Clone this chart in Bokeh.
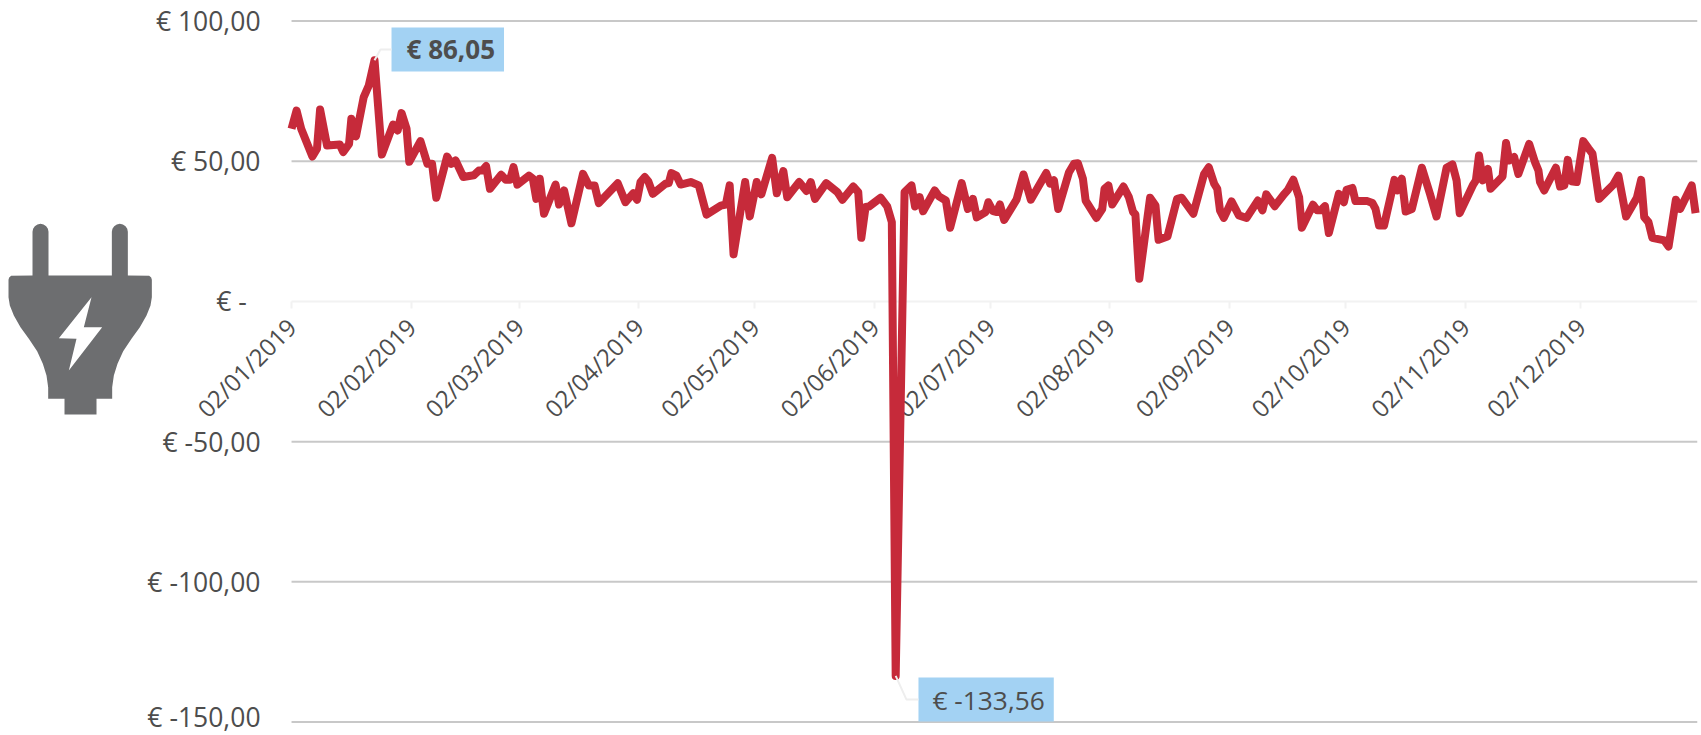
from math import pi, cos, sin
from bokeh.plotting import figure
from bokeh.models import Label, FixedTicker, Range1d
from bokeh.embed import file_html
from bokeh.resources import INLINE

tick_days = [0, 31, 59, 90, 120, 151, 181, 212, 243, 273, 304, 334]
tick_labels = ["02/01/2019", "02/02/2019", "02/03/2019", "02/04/2019", "02/05/2019", "02/06/2019",
               "02/07/2019", "02/08/2019", "02/09/2019", "02/10/2019", "02/11/2019", "02/12/2019"]
y_ticks = [100, 50, 0, -50, -100, -150]
y_labels = ["€ 100,00", "€ 50,00", "€ -\u00a0\u00a0", "€ -50,00", "€ -100,00", ""]

days = [0, 1.3, 2.5, 5.4, 6.6, 7.4, 9.2, 12.5, 13.4, 14.9, 15.5, 16.7, 18.7, 20, 21.5, 23.4, 26.3, 27.5, 28.5,
        29.8, 30.5, 33.4, 35.2, 36.4, 37.5, 40.3, 41.4, 42.5, 44.5, 47.2, 48.5, 49.4, 50.4, 51.4, 54.3, 55.5,
        56.6, 57.5, 58.5, 61.5, 62.5, 63.4, 64.3, 65.4, 68.4, 69.3, 70.6, 72.5, 75.5, 77, 78.5, 79.6, 84.5,
        86.5, 88.5, 89.5, 90.4, 91.5, 92.4, 93.6, 96.9, 97.7, 98.4, 99.7, 100.8, 103.4, 105.5, 107.5, 111.2,
        112.5, 113.5, 114.5, 117.5, 118.7, 120.5, 121.7, 124.5, 125.7, 127.4, 128.4, 131.5, 133.4, 134.5,
        135.6, 138.5, 141.4, 142.7, 145.5, 146.8, 147.6, 148.7, 149.6, 152.6, 154.3, 155.5, 156.5, 158.8,
        160.6, 161.5, 162.7, 163.6, 166.6, 167.7, 169.5, 170.6, 173.6, 175.2, 176.5, 177.5, 179.8, 180.5,
        181.7, 182.7, 183.5, 184.6, 187.8, 189.6, 191.5, 195.5, 196.5, 197.5, 198.6, 201.4, 202.7, 203.7,
        205, 205.7, 208.5, 210, 210.6, 211.6, 212.6, 215.5, 216.9, 218, 218.6, 219.6, 222.4, 223.8, 224.6,
        226.9, 229.4, 230.6, 233.6, 236.4, 237.6, 239, 239.8, 240.5, 241.5, 243.5, 245.4, 247.4, 250.3,
        251.5, 252.5, 254.7, 257.2, 258.1, 259.5, 261, 261.7, 264.6, 265.7, 266.6, 267.7, 268.7, 271.3,
        272.6, 273.3, 274.8, 275.6, 278.7, 280, 280.8, 281.7, 283, 285.7, 286.5, 287.6, 288.6, 290.2,
        292.8, 294.9, 296.6, 299.2, 300.7, 301.8, 302.6, 306.1, 306.8, 307.6, 308.6, 309.9, 310.6, 313.7,
        314.6, 315.4, 316.7, 317.8, 320.6, 322.1, 323, 323.4, 324.5, 327.5, 328.6, 329.7, 330.6, 331.5,
        332.9, 334.6, 336, 337, 338.7, 342.4, 343.7, 345.7, 348.5, 349.6, 350.4, 351.5, 352.5, 355.6,
        356.7, 358.6, 359.7, 362.7, 363.7]
prices = [61.6, 68.1, 61.6, 51.7, 54.5, 68.5, 55.6, 56, 53.3, 56.2, 65.2, 58.9, 72.9, 77, 86.05, 52.4, 63.1, 61,
          67.2, 61.6, 49.8, 57.2, 49.1, 49.1, 37, 51.7, 49.1, 50.3, 44.4, 45, 46.7, 46.7, 48.3, 40.2, 45.2, 43.4,
          43.4, 47.9, 41.7, 44.9, 43.8, 36.6, 43.8, 31.3, 41.7, 34.6, 39.6, 27.9, 45.5, 41.4, 41.4, 35.1, 42.2,
          35.4, 38.6, 36.3, 42.6, 44.4, 42.9, 38.4, 42, 42.2, 45.8, 44.9, 41.7, 42.6, 41.4, 31, 34.2,
          34.6, 41.4, 16.8, 42.6, 30.3, 42.6, 38.2, 51.2, 38.6, 46.5, 37.2, 42.6, 39.4, 42.6,
          36.6, 42.2, 39, 36.3, 41, 39, 22.7, 33.7, 33.9, 37, 33.9, 28.3, -133.56, 39,
          41.4, 33.9, 37.2, 32.2, 39.6, 37.5, 36, 26.3, 42.2, 33, 36.6, 30, 31.9, 35.4,
          32.2, 31.9, 34.6, 29.1, 36.3, 45.3, 36.3, 45.8, 42, 43.2, 33, 46.1, 49.1, 49.3,
          43.8, 36, 29.8, 33, 40.2, 41.4, 34.6, 41, 37.2, 31.9, 31, 8.1, 37, 34.2, 22,
          23.2, 36.6, 37, 31.3, 45.5, 47.9, 42, 40.2, 32.5, 29.8, 35.7, 30.7, 29.8, 36,
          32.5, 38.2, 34, 38.4, 39.8, 43.4, 37.2, 26.3, 34.5, 32.5, 32.5, 34, 24.4, 38.4,
          35.4, 39.8, 40.5, 35.8, 35.8, 35.1, 33, 27.1, 27.1, 43.4, 39.6, 43.8, 32.1, 33,
          47.7, 38.4, 30.3, 47.7, 48.9, 43.2, 31.5, 41.7, 43.2, 52.1, 43.2, 47.3, 40.2, 44.6,
          56.5, 50.3, 51.5, 45.5, 56.2, 49.7, 46.7, 42.6, 39.6, 47.7, 41, 41.4, 50.5, 42.9,
          42.6, 57.2, 54.5, 52.7, 36.6, 41.7, 44.9, 30.3, 37, 43.4, 30.1, 28.3, 22.7, 21.8,
          19.6, 36.3, 33, 41.4, 31.5]

TXT = "#4d4d4d"
X_END = 364.2
p = figure(width=1701, height=735, output_backend="svg", toolbar_location=None,
           x_range=Range1d(-291 / 3.86, X_END), y_range=Range1d(-154.8, 107.35),
           min_border_left=0, min_border_right=4, min_border_top=0, min_border_bottom=0,
           outline_line_color=None, background_fill_color="white", border_fill_color="white")

p.yaxis.fixed_location = 0
p.yaxis.bounds = (-150, 100)
p.yaxis.ticker = FixedTicker(ticks=y_ticks)
p.yaxis.major_label_overrides = dict(zip(y_ticks, y_labels))
p.yaxis.axis_line_color = None
p.yaxis.major_tick_line_color = None
p.yaxis.minor_tick_line_color = None
p.yaxis.major_label_text_font = "Open Sans"
p.yaxis.major_label_text_font_size = "26.5px"
p.yaxis.major_label_text_color = TXT
p.yaxis.major_label_standoff = 25

p.xaxis.fixed_location = 0
p.xaxis.bounds = (0, X_END)
p.xaxis.ticker = FixedTicker(ticks=tick_days)
p.xaxis.major_label_overrides = dict(zip(tick_days, tick_labels))
p.xaxis.major_label_orientation = pi / 4
p.xaxis.major_label_text_font = "Open Sans"
p.xaxis.major_label_text_font_size = "24px"
p.xaxis.major_label_text_color = TXT
p.xaxis.major_label_standoff = 14
p.xaxis.axis_line_color = "#f2f2f2"
p.xaxis.axis_line_width = 2
p.xaxis.major_tick_line_color = "#f2f2f2"
p.xaxis.major_tick_line_width = 2
p.xaxis.major_tick_in = 0
p.xaxis.major_tick_out = 7
p.xaxis.minor_tick_line_color = None

p.xgrid.grid_line_color = None
p.ygrid.grid_line_color = None
grid_vals = [t for t in y_ticks if t != 0]
p.segment(x0=[0] * len(grid_vals), x1=[X_END] * len(grid_vals), y0=grid_vals, y1=grid_vals,
          line_color="#c8c8c8", line_width=2, level="underlay")

p.add_layout(Label(x=0, y=-150, x_offset=-31, y_offset=5, text="€ -150,00", text_font="Open Sans",
                   text_font_size="26.5px", text_color=TXT, text_align="right", text_baseline="middle"))

p.line(days, prices, line_color="#c62a3a", line_width=8, line_join="round", line_cap="butt", level="overlay")

# callout connectors
p.line([21.5, 23.05, 25.9], [86.05, 89.9, 89.9], line_color="#eeeeee", line_width=2, level="overlay")
p.line([156.5, 159.3, 162.4], [-133.56, -142, -142], line_color="#eeeeee", line_width=2, level="overlay")

p.add_layout(Label(x=25.9, y=89.9, text="€ 86,05", text_font="Open Sans", text_font_style="bold",
                   text_font_size="26px", text_color=TXT, text_baseline="middle",
                   background_fill_color="#a3d2f3", padding=(15, 9, 4, 4)))
p.add_layout(Label(x=162.4, y=-142, text="€ -133,56", text_font="Open Sans",
                   text_font_size="26.3px", text_color=TXT, text_baseline="middle",
                   background_fill_color="#a3d2f3", padding=(14, 9, 4, 4)))

# plug icon (decoration): outline, mapped into the figure's scales
tip = [(120 - 24 * cos(t * pi / 8), 94 - 24 * sin(t * pi / 8)) for t in range(9)]
prong = [(96, 225)] + tip + [(144, 225)]
side = [(24, 290), (28, 315), (40, 345), (60, 380), (85, 415), (110, 452), (127, 490), (138, 525), (143, 560), (143, 595)]
plug = [(24, 238), (26, 231), (32, 226)] + prong + [(478 - a, b) for a, b in reversed(prong)] + \
    [(446, 226), (452, 231), (454, 238)] + [(478 - a, b) for a, b in side] + \
    [(288, 595), (288, 642), (192, 642), (192, 595)] + list(reversed(side))
bolt = [(273, 290), (250, 380), (305, 380), (205, 510), (228, 415), (175, 413)]
dx = lambda a: (a / 3 - 291) / 3.86
dy = lambda b: (301 - (200 + b / 3)) / 2.804
p.patch([dx(a) for a, b in plug], [dy(b) for a, b in plug], fill_color="#6d6e70", line_color=None)
p.patch([dx(a) for a, b in bolt], [dy(b) for a, b in bolt], fill_color="white", line_color=None)

open("out.html", "w").write(file_html(p, INLINE))
